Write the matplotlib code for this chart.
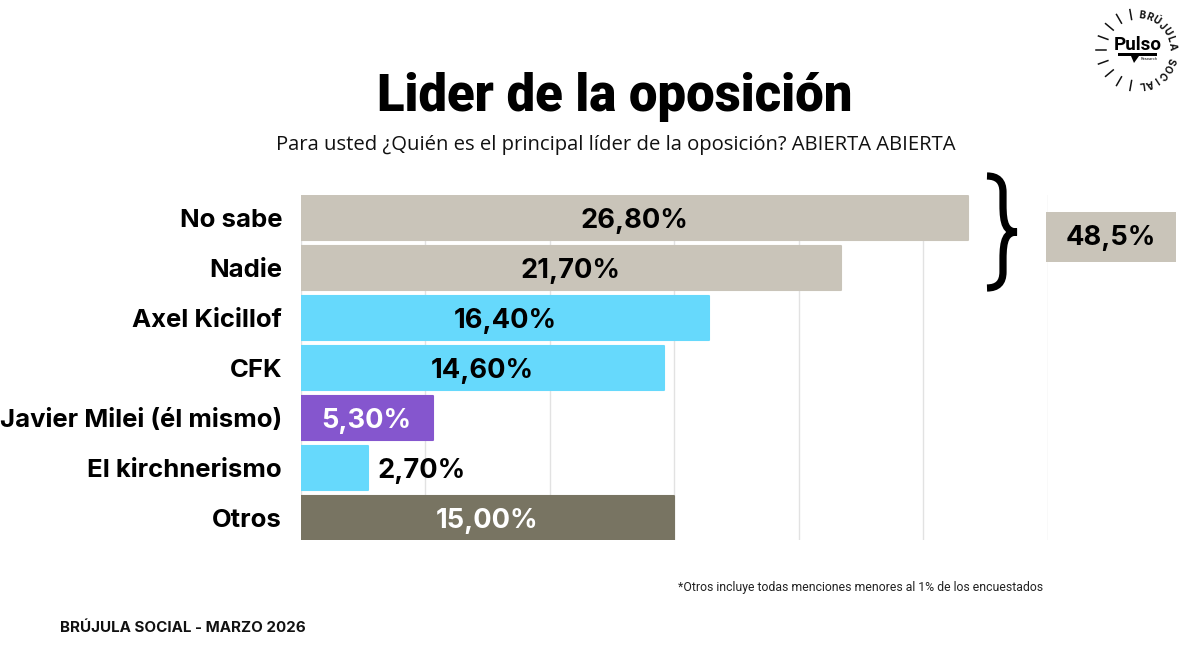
import numpy as np
import matplotlib
matplotlib.use("Agg")
import matplotlib.pyplot as plt
from matplotlib.path import Path as MPath
from matplotlib.patches import PathPatch, Rectangle

categories = ["No sabe", "Nadie", "Axel Kicillof", "CFK", "Javier Milei (él mismo)", "El kirchnerismo", "Otros"]
values = [26.8, 21.7, 16.4, 14.6, 5.3, 2.7, 15.0]
value_labels = ["26,80%", "21,70%", "16,40%", "14,60%", "5,30%", "2,70%", "15,00%"]
bar_colors = ["#C9C4B9", "#C9C4B9", "#66D9FC", "#66D9FC", "#8556CE", "#66D9FC", "#787462"]
label_colors = ["#000000", "#000000", "#000000", "#000000", "#FFFFFF", "#000000", "#FFFFFF"]
grid_ticks = [0, 5, 10, 15, 20, 25, 30]
total_label = "48,5%"

W, H = 1200, 659
HEAVY = "Inter"
LIGHT = "Open Sans"

fig = plt.figure(figsize=(W / 100, H / 100), dpi=100, facecolor="white")

# main axes: 0-30 spans 747 px, seven bands of 50 px
ax = fig.add_axes([300.8 / W, 1 - 540.4 / H, 747 / W, 345 / H])
ax.set_xlim(0, 30)
ax.set_ylim(6.45, -0.45)
ax.patch.set_alpha(0)
for side in ax.spines.values():
    side.set_visible(False)
ax.set_xticks(grid_ticks)
ax.tick_params(axis="x", length=0, labelbottom=False)
ax.tick_params(axis="y", length=0, pad=13.5)
ax.grid(axis="x", color="#E2E2E2", linewidth=1)
ax.set_axisbelow(True)

y = np.arange(len(categories))
bars = ax.barh(y, values, height=0.865, color=bar_colors, edgecolor=bar_colors, linewidth=1.5)
for b in bars:
    b.set_joinstyle("round")

ax.set_yticks(y)
ax.set_yticklabels(categories, fontfamily=HEAVY, fontweight="bold", fontsize=18.5, color="black")

for i, (v, txt, c) in enumerate(zip(values, value_labels, label_colors)):
    if v < 3:  # too narrow, goes outside the bar
        ax.annotate(txt, (v, i), xytext=(7, 0), textcoords="offset points", va="center_baseline", ha="left",
                    fontfamily=HEAVY, fontweight="bold", fontsize=19.6, color=c)
    else:
        ax.text(v / 2, i, txt, va="center_baseline", ha="center", fontfamily=HEAVY, fontweight="bold", fontsize=19.6, color=c)

# overlay in pixel coords for the annotations around the chart
ov = fig.add_axes([0, 0, 1, 1])
ov.set_xlim(0, W)
ov.set_ylim(H, 0)
ov.axis("off")
ov.patch.set_alpha(0)

ov.text(615, 97, "Lider de la oposición", ha="center", va="center", fontfamily="Roboto", fontweight="black", fontsize=36.6, color="black")
ov.text(615.5, 145, "Para usted ¿Quién es el principal líder de la oposición? ABIERTA ABIERTA", ha="center", va="center",
        fontfamily=LIGHT, fontsize=14.6, color="#111111")
ov.text(1043, 587, "*Otros incluye todas menciones menores al 1% de los encuestados", ha="right", va="center",
        fontfamily="Roboto", fontsize=8.8, color="#222222")
ov.text(60, 628, "BRÚJULA SOCIAL - MARZO 2026", ha="left", va="center", fontfamily=HEAVY, fontweight="bold", fontsize=10.9, color="#111111")

# total box and brace
ov.add_patch(Rectangle((1046, 212), 130, 50, facecolor="#C9C4B9", edgecolor="none"))
ov.text(1111, 235, total_label, ha="center", va="center_baseline", fontfamily=HEAVY, fontweight="bold", fontsize=19.6, color="black")

brace = [(987, 176), (1003, 176), (1003, 192), (1003, 205), (1003, 224), (1006, 232), (1017, 232),
         (1006, 232), (1003, 240), (1003, 259), (1003, 272), (1003, 288), (987, 288)]
codes = [MPath.MOVETO, MPath.CURVE3, MPath.CURVE3, MPath.LINETO, MPath.CURVE4, MPath.CURVE4, MPath.CURVE4,
         MPath.CURVE4, MPath.CURVE4, MPath.CURVE4, MPath.LINETO, MPath.CURVE3, MPath.CURVE3]
ov.add_patch(PathPatch(MPath(brace, codes), facecolor="none", edgecolor="black", linewidth=5.2, capstyle="butt"))

# logo
cx, cy = 1137, 50
for deg in range(100, 261, 20):
    a = np.deg2rad(deg)
    ov.plot([cx + 31 * np.cos(a), cx + 41 * np.cos(a)], [cy - 31 * np.sin(a), cy - 41 * np.sin(a)], color="#111111", lw=1.1)
ring = "BRÚJULA SOCIAL"
for i, ch in enumerate(ring):
    deg = 82 - i * 164 / (len(ring) - 1)
    a = np.deg2rad(deg)
    ov.text(cx + 35 * np.cos(a), cy - 35 * np.sin(a), ch, ha="center", va="center", rotation=deg - 90,
            rotation_mode="anchor", fontfamily=HEAVY, fontweight="bold", fontsize=7.2, color="#111111")
ov.text(1138, 45, "Pulso", ha="center", va="center", fontfamily="Roboto", fontweight="bold", fontsize=13.5, color="black")
ov.add_patch(Rectangle((1118, 53), 39, 3, facecolor="black", edgecolor="none"))
ov.add_patch(PathPatch(MPath([(1131, 56), (1139, 56), (1134, 63), (1131, 56)]), facecolor="black", edgecolor="none"))
ov.text(1149, 59, "Research", ha="center", va="center", fontfamily=HEAVY, fontsize=2.8, color="black")

fig.savefig("out.png", dpi=100)
